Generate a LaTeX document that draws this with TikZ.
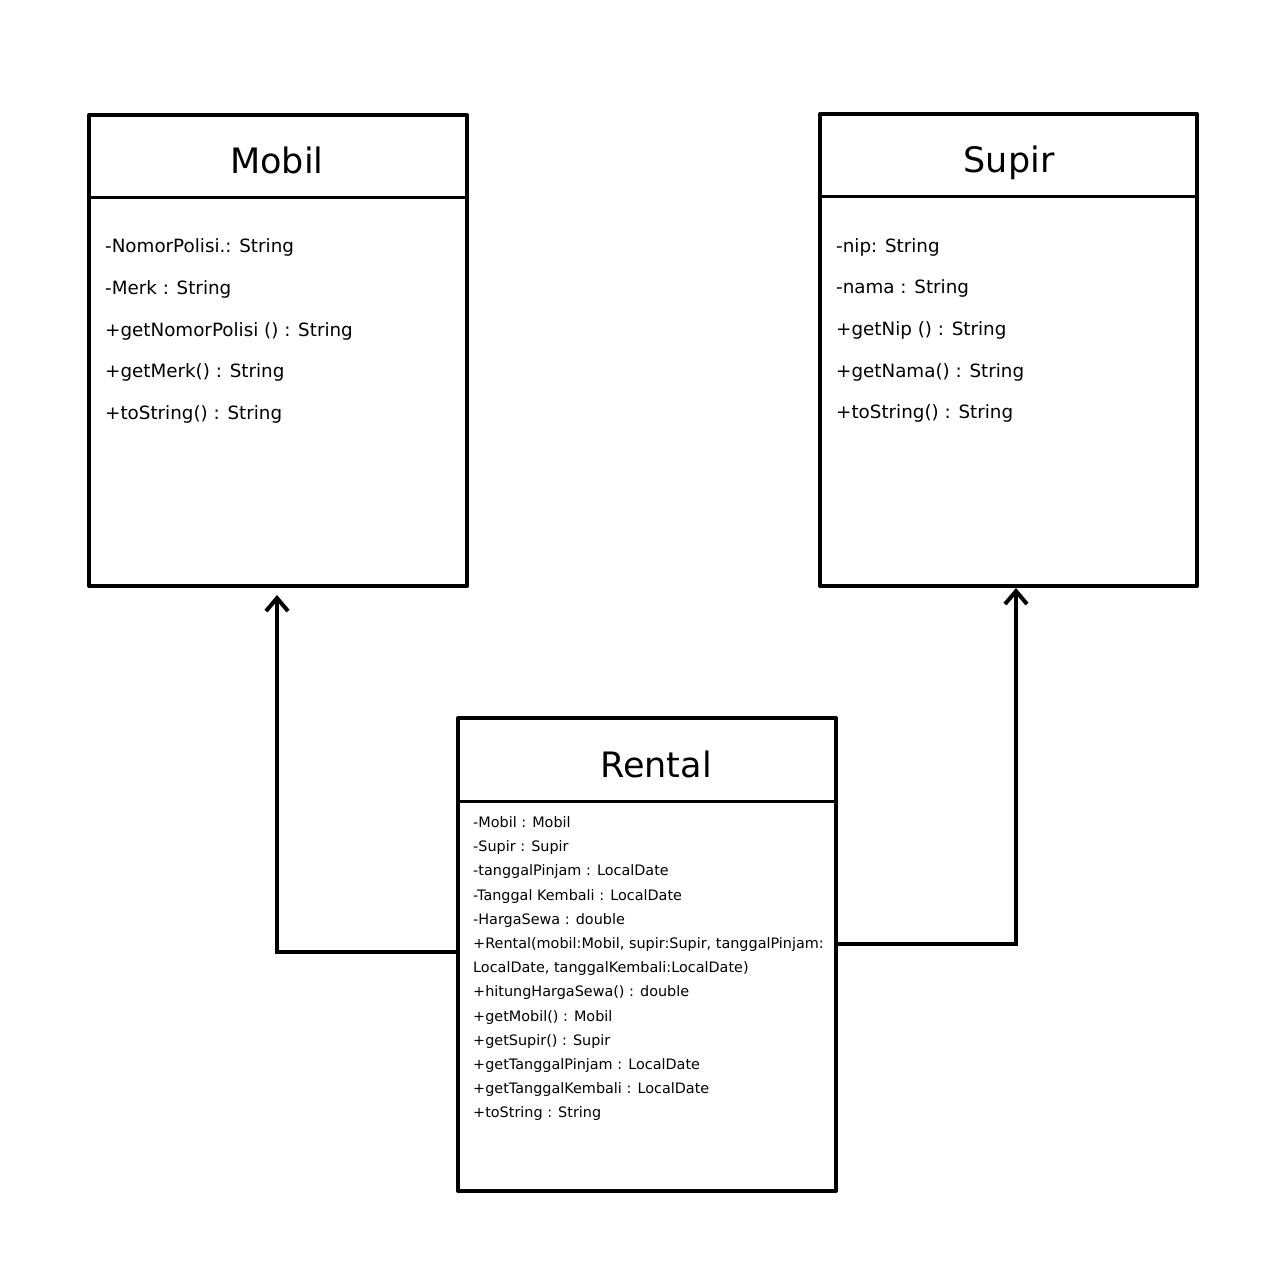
\documentclass[tikz,border=0pt]{standalone}
\usepackage{fontspec}
\setmainfont{DejaVu Sans}
\usetikzlibrary{arrows.meta}
\begin{document}
\begin{tikzpicture}[x=1pt,y=-1pt,
  classbox/.style={draw=black,line width=4pt,line join=round,rectangle,inner sep=0pt,outer sep=0pt,anchor=north west},
  sepline/.style={draw=black,line width=3pt},
  title/.style={anchor=base,inner sep=0pt,font=\fontsize{35}{40}\selectfont},
  attr/.style={anchor=base west,inner sep=0pt,font=\fontsize{18.3}{20}\selectfont},
  rattr/.style={anchor=base west,inner sep=0pt,font=\fontsize{14.4}{17}\selectfont},
  conn/.style={draw=black,line width=4pt,line join=miter,-{Straight Barb[length=13pt,width=22pt,line width=4pt]}}]
\useasboundingbox (0,0) rectangle (1280,1280);
% Mobil
\node[classbox,minimum width=378pt,minimum height=471pt] (mobil) at (89,115) {};
\draw[sepline] (89,197) -- (467,197);
\node[title] (mobilT) at (277,173) {Mobil};
\node[attr] (m1) at (105,252) {-NomorPolisi.: String};
\node[attr] (m2) at (105,294) {-Merk : String};
\node[attr] (m3) at (105,336) {+getNomorPolisi () : String};
\node[attr] (m4) at (105,377) {+getMerk() : String};
\node[attr] (m5) at (105,419) {+toString() : String};
% Supir
\node[classbox,minimum width=377pt,minimum height=472pt] (supir) at (820,114) {};
\draw[sepline] (820,196) -- (1197,196);
\node[title] (supirT) at (1009,172) {Supir};
\node[attr] (s1) at (836,252) {-nip: String};
\node[attr] (s2) at (836,293) {-nama : String};
\node[attr] (s3) at (836,335) {+getNip () : String};
\node[attr] (s4) at (836,377) {+getNama() : String};
\node[attr] (s5) at (836,418) {+toString() : String};
% Rental
\node[classbox,minimum width=378pt,minimum height=473pt] (rental) at (458,718) {};
\draw[sepline] (458,801) -- (836,801);
\node[title] (rentalT) at (656,777) {Rental};
\node[rattr] (r1) at (473,827.5) {-Mobil : Mobil};
\node[rattr] (r2) at (473,851.7) {-Supir : Supir};
\node[rattr] (r3) at (473,875.9) {-tanggalPinjam : LocalDate};
\node[rattr] (r4) at (473,900.1) {-Tanggal Kembali : LocalDate};
\node[rattr] (r5) at (473,924.3) {-HargaSewa : double};
\node[rattr] (r6) at (473,948.5) {+Rental(mobil:Mobil, supir:Supir, tanggalPinjam:};
\node[rattr] (r7) at (473,972.7) {LocalDate, tanggalKembali:LocalDate)};
\node[rattr] (r8) at (473,996.9) {+hitungHargaSewa() : double};
\node[rattr] (r9) at (473,1021.1) {+getMobil() : Mobil};
\node[rattr] (r10) at (473,1045.3) {+getSupir() : Supir};
\node[rattr] (r11) at (473,1069.5) {+getTanggalPinjam : LocalDate};
\node[rattr] (r12) at (473,1093.7) {+getTanggalKembali : LocalDate};
\node[rattr] (r13) at (473,1117.9) {+toString : String};
% connectors
\coordinate (lstart) at (458,952);
\coordinate (rstart) at (836,944);
\draw[conn] (lstart) -| ([yshift=-9pt]mobil.south -| 277,0);
\draw[conn] (rstart) -| ([yshift=-2pt]supir.south -| 1016,0);
\end{tikzpicture}
\end{document}
